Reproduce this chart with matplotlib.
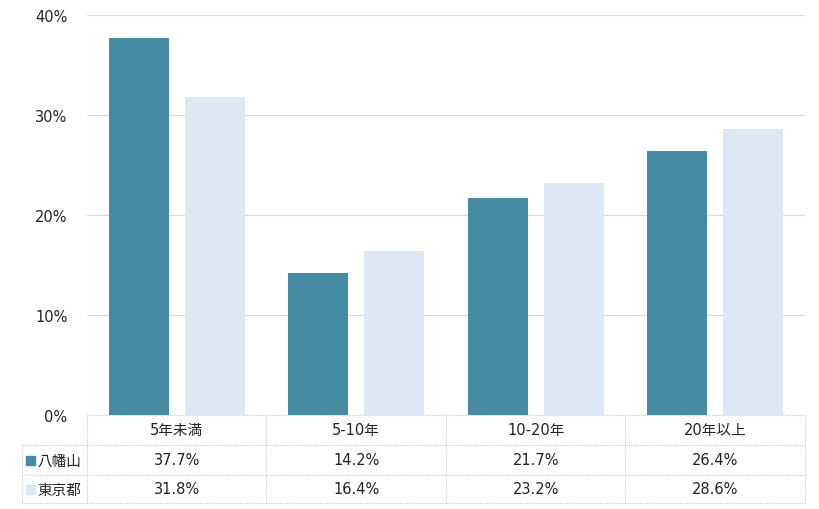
import numpy as np
import matplotlib.pyplot as plt
import matplotlib.transforms as mtransforms

plt.rcParams['font.family'] = ['DejaVu Sans', 'Noto Sans CJK JP']

categories = ["5年未満", "5-10年", "10-20年", "20年以上"]
series_names = ["八幡山", "東京都"]
yawata = [37.7, 14.2, 21.7, 26.4]
tokyo = [31.8, 16.4, 23.2, 28.6]
colors = ["#468ba4", "#dde8f4"]
yticks = [0, 10, 20, 30, 40]
fs = 10.5

W, H = 820, 510
fig = plt.figure(figsize=(W / 100, H / 100), dpi=100)
ax = fig.add_axes([87 / W, (H - 416) / H, (805 - 87) / W, 400 / H])

x = np.arange(len(categories))
bw = 0.334
off = (bw + 0.089) / 2
ax.bar(x - off, yawata, bw, color=colors[0], zorder=3)
ax.bar(x + off, tokyo, bw, color=colors[1], zorder=3)

ax.set_xlim(-0.5, len(categories) - 0.5)
ax.set_ylim(0, 40)
ax.set_yticks(yticks)
ax.set_yticklabels([f"{v}%" for v in yticks], fontsize=fs, color="#222222")
ax.set_xticks([])
ax.tick_params(axis="y", length=0, pad=14)
ax.grid(axis="y", color="#d9d9d9", linewidth=0.8, zorder=0)
for s in ax.spines.values():
    s.set_visible(False)

# table below the plot
tr = mtransforms.blended_transform_factory(ax.transData, ax.transAxes)
tra = ax.transAxes
rows = [0, -30 / 400, -60 / 400, -88 / 400]
lc = dict(color="#cccccc", linewidth=0.8, linestyle=(0, (1, 1)), clip_on=False)
lx = -65 / 718
ax.plot([0, 1], [0, 0], transform=tra, **lc)
for yy in rows[1:]:
    ax.plot([lx, 1], [yy, yy], transform=tra, **lc)
for i in range(len(categories) + 1):
    xx = i / len(categories)
    ax.plot([xx, xx], [rows[0], rows[-1]], transform=tra, **lc)
ax.plot([lx, lx], [rows[1], rows[-1]], transform=tra, **lc)

for i, c in enumerate(categories):
    ax.text(i, (rows[0] + rows[1]) / 2, c, transform=tr, ha="center", va="center",
            fontsize=fs, color="#222222")
for r, (name, vals, col) in enumerate(zip(series_names, [yawata, tokyo], colors)):
    yc = (rows[r + 1] + rows[r + 2]) / 2
    for i, v in enumerate(vals):
        ax.text(i, yc, f"{v:.1f}%", transform=tr, ha="center", va="center",
                fontsize=fs, color="#222222")
    ax.text(lx + 15 / 718, yc, name, transform=tra, ha="left", va="center",
            fontsize=fs, color="#222222")
    ax.add_patch(plt.Rectangle((lx + 4 / 718, yc - 4.5 / 400), 9 / 718, 9 / 400,
                               transform=tra, color=col, clip_on=False))

fig.savefig("out.png", dpi=100)
